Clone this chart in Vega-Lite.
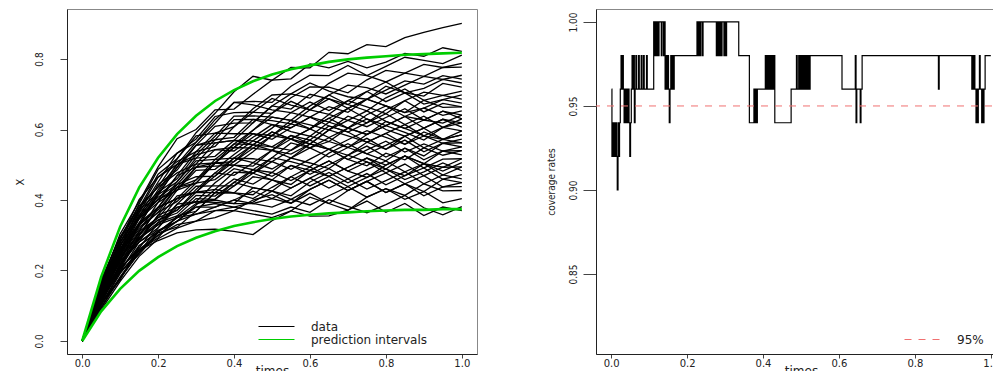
{
"$schema": "https://vega.github.io/schema/vega-lite/v6.json",
"background": "white",
"padding": {"left": 13, "top": 8, "right": -11, "bottom": -5},
"autosize": {"type": "pad"},
"bounds": "flush",
"spacing": 119,
"config": {
  "view": {"stroke": "#888888", "strokeWidth": 1},
  "axis": {"grid": false, "domainColor": "#222222", "tickColor": "#444444", "labelColor": "#222222", "titleColor": "#222222", "titleFontWeight": "normal", "labelFont": "DejaVu Sans", "titleFont": "DejaVu Sans"},
  "legend": {"labelFont": "DejaVu Sans", "labelColor": "#222222"}
},
"resolve": {"scale": {"color": "independent"}},
"datasets": {
"bands": [
{"s":"u","t":0,"x":0},{"s":"u","t":0.05,"x":0.182},{"s":"u","t":0.1,"x":0.324},{"s":"u","t":0.15,"x":0.435},{"s":"u","t":0.2,"x":0.52},{"s":"u","t":0.25,"x":0.587},{"s":"u","t":0.3,"x":0.639},{"s":"u","t":0.35,"x":0.681},{"s":"u","t":0.4,"x":0.712},{"s":"u","t":0.45,"x":0.737},{"s":"u","t":0.5,"x":0.756},{"s":"u","t":0.55,"x":0.771},{"s":"u","t":0.6,"x":0.782},{"s":"u","t":0.65,"x":0.792},{"s":"u","t":0.7,"x":0.799},{"s":"u","t":0.75,"x":0.804},{"s":"u","t":0.8,"x":0.808},{"s":"u","t":0.85,"x":0.812},{"s":"u","t":0.9,"x":0.814},{"s":"u","t":0.95,"x":0.816},{"s":"u","t":1,"x":0.818},
{"s":"l","t":0,"x":0},{"s":"l","t":0.05,"x":0.084},{"s":"l","t":0.1,"x":0.148},{"s":"l","t":0.15,"x":0.199},{"s":"l","t":0.2,"x":0.238},{"s":"l","t":0.25,"x":0.269},{"s":"l","t":0.3,"x":0.293},{"s":"l","t":0.35,"x":0.311},{"s":"l","t":0.4,"x":0.326},{"s":"l","t":0.45,"x":0.337},{"s":"l","t":0.5,"x":0.346},{"s":"l","t":0.55,"x":0.353},{"s":"l","t":0.6,"x":0.358},{"s":"l","t":0.65,"x":0.362},{"s":"l","t":0.7,"x":0.365},{"s":"l","t":0.75,"x":0.368},{"s":"l","t":0.8,"x":0.37},{"s":"l","t":0.85,"x":0.372},{"s":"l","t":0.9,"x":0.372},{"s":"l","t":0.95,"x":0.374},{"s":"l","t":1,"x":0.374}
],
"paths": [
{"p":1,"t":0,"x":0},{"p":1,"t":0.05,"x":0.141},{"p":1,"t":0.1,"x":0.268},{"p":1,"t":0.15,"x":0.377},{"p":1,"t":0.2,"x":0.473},{"p":1,"t":0.25,"x":0.517},{"p":1,"t":0.3,"x":0.591},{"p":1,"t":0.35,"x":0.646},{"p":1,"t":0.4,"x":0.707},{"p":1,"t":0.45,"x":0.751},{"p":1,"t":0.5,"x":0.74},{"p":1,"t":0.55,"x":0.776},{"p":1,"t":0.6,"x":0.775},{"p":1,"t":0.65,"x":0.819},{"p":1,"t":0.7,"x":0.815},{"p":1,"t":0.75,"x":0.841},{"p":1,"t":0.8,"x":0.835},{"p":1,"t":0.85,"x":0.861},{"p":1,"t":0.9,"x":0.876},{"p":1,"t":0.95,"x":0.889},{"p":1,"t":1,"x":0.901},
{"p":2,"t":0,"x":0},{"p":2,"t":0.05,"x":0.163},{"p":2,"t":0.1,"x":0.304},{"p":2,"t":0.15,"x":0.395},{"p":2,"t":0.2,"x":0.494},{"p":2,"t":0.25,"x":0.574},{"p":2,"t":0.3,"x":0.6},{"p":2,"t":0.35,"x":0.656},{"p":2,"t":0.4,"x":0.658},{"p":2,"t":0.45,"x":0.7},{"p":2,"t":0.5,"x":0.74},{"p":2,"t":0.55,"x":0.744},{"p":2,"t":0.6,"x":0.786},{"p":2,"t":0.65,"x":0.775},{"p":2,"t":0.7,"x":0.793},{"p":2,"t":0.75,"x":0.775},{"p":2,"t":0.8,"x":0.791},{"p":2,"t":0.85,"x":0.816},{"p":2,"t":0.9,"x":0.808},{"p":2,"t":0.95,"x":0.832},{"p":2,"t":1,"x":0.822},
{"p":3,"t":0,"x":0},{"p":3,"t":0.05,"x":0.153},{"p":3,"t":0.1,"x":0.286},{"p":3,"t":0.15,"x":0.401},{"p":3,"t":0.2,"x":0.465},{"p":3,"t":0.25,"x":0.501},{"p":3,"t":0.3,"x":0.564},{"p":3,"t":0.35,"x":0.618},{"p":3,"t":0.4,"x":0.677},{"p":3,"t":0.45,"x":0.68},{"p":3,"t":0.5,"x":0.677},{"p":3,"t":0.55,"x":0.723},{"p":3,"t":0.6,"x":0.754},{"p":3,"t":0.65,"x":0.753},{"p":3,"t":0.7,"x":0.782},{"p":3,"t":0.75,"x":0.753},{"p":3,"t":0.8,"x":0.779},{"p":3,"t":0.85,"x":0.805},{"p":3,"t":0.9,"x":0.796},{"p":3,"t":0.95,"x":0.787},{"p":3,"t":1,"x":0.811},
{"p":4,"t":0,"x":0},{"p":4,"t":0.05,"x":0.171},{"p":4,"t":0.1,"x":0.295},{"p":4,"t":0.15,"x":0.377},{"p":4,"t":0.2,"x":0.437},{"p":4,"t":0.25,"x":0.517},{"p":4,"t":0.3,"x":0.582},{"p":4,"t":0.35,"x":0.59},{"p":4,"t":0.4,"x":0.608},{"p":4,"t":0.45,"x":0.659},{"p":4,"t":0.5,"x":0.698},{"p":4,"t":0.55,"x":0.701},{"p":4,"t":0.6,"x":0.689},{"p":4,"t":0.65,"x":0.731},{"p":4,"t":0.7,"x":0.76},{"p":4,"t":0.75,"x":0.753},{"p":4,"t":0.8,"x":0.735},{"p":4,"t":0.85,"x":0.76},{"p":4,"t":0.9,"x":0.785},{"p":4,"t":0.95,"x":0.776},{"p":4,"t":1,"x":0.788},
{"p":5,"t":0,"x":0},{"p":5,"t":0.05,"x":0.138},{"p":5,"t":0.1,"x":0.259},{"p":5,"t":0.15,"x":0.365},{"p":5,"t":0.2,"x":0.451},{"p":5,"t":0.25,"x":0.533},{"p":5,"t":0.3,"x":0.573},{"p":5,"t":0.35,"x":0.637},{"p":5,"t":0.4,"x":0.648},{"p":5,"t":0.45,"x":0.649},{"p":5,"t":0.5,"x":0.646},{"p":5,"t":0.55,"x":0.69},{"p":5,"t":0.6,"x":0.721},{"p":5,"t":0.65,"x":0.72},{"p":5,"t":0.7,"x":0.704},{"p":5,"t":0.75,"x":0.741},{"p":5,"t":0.8,"x":0.768},{"p":5,"t":0.85,"x":0.76},{"p":5,"t":0.9,"x":0.751},{"p":5,"t":0.95,"x":0.776},{"p":5,"t":1,"x":0.777},
{"p":6,"t":0,"x":0},{"p":6,"t":0.05,"x":0.158},{"p":6,"t":0.1,"x":0.268},{"p":6,"t":0.15,"x":0.371},{"p":6,"t":0.2,"x":0.465},{"p":6,"t":0.25,"x":0.509},{"p":6,"t":0.3,"x":0.537},{"p":6,"t":0.35,"x":0.552},{"p":6,"t":0.4,"x":0.608},{"p":6,"t":0.45,"x":0.649},{"p":6,"t":0.5,"x":0.688},{"p":6,"t":0.55,"x":0.669},{"p":6,"t":0.6,"x":0.656},{"p":6,"t":0.65,"x":0.698},{"p":6,"t":0.7,"x":0.726},{"p":6,"t":0.75,"x":0.719},{"p":6,"t":0.8,"x":0.701},{"p":6,"t":0.85,"x":0.726},{"p":6,"t":0.9,"x":0.751},{"p":6,"t":0.95,"x":0.742},{"p":6,"t":1,"x":0.754},
{"p":7,"t":0,"x":0},{"p":7,"t":0.05,"x":0.128},{"p":7,"t":0.1,"x":0.25},{"p":7,"t":0.15,"x":0.353},{"p":7,"t":0.2,"x":0.444},{"p":7,"t":0.25,"x":0.485},{"p":7,"t":0.3,"x":0.555},{"p":7,"t":0.35,"x":0.609},{"p":7,"t":0.4,"x":0.618},{"p":7,"t":0.45,"x":0.619},{"p":7,"t":0.5,"x":0.667},{"p":7,"t":0.55,"x":0.701},{"p":7,"t":0.6,"x":0.732},{"p":7,"t":0.65,"x":0.709},{"p":7,"t":0.7,"x":0.693},{"p":7,"t":0.75,"x":0.686},{"p":7,"t":0.8,"x":0.712},{"p":7,"t":0.85,"x":0.738},{"p":7,"t":0.9,"x":0.729},{"p":7,"t":0.95,"x":0.753},{"p":7,"t":1,"x":0.743},
{"p":8,"t":0,"x":0},{"p":8,"t":0.05,"x":0.148},{"p":8,"t":0.1,"x":0.277},{"p":8,"t":0.15,"x":0.389},{"p":8,"t":0.2,"x":0.487},{"p":8,"t":0.25,"x":0.533},{"p":8,"t":0.3,"x":0.564},{"p":8,"t":0.35,"x":0.628},{"p":8,"t":0.4,"x":0.677},{"p":8,"t":0.45,"x":0.67},{"p":8,"t":0.5,"x":0.656},{"p":8,"t":0.55,"x":0.648},{"p":8,"t":0.6,"x":0.678},{"p":8,"t":0.65,"x":0.654},{"p":8,"t":0.7,"x":0.682},{"p":8,"t":0.75,"x":0.708},{"p":8,"t":0.8,"x":0.679},{"p":8,"t":0.85,"x":0.704},{"p":8,"t":0.9,"x":0.717},{"p":8,"t":0.95,"x":0.742},{"p":8,"t":1,"x":0.732},
{"p":9,"t":0,"x":0},{"p":9,"t":0.05,"x":0.166},{"p":9,"t":0.1,"x":0.281},{"p":9,"t":0.15,"x":0.365},{"p":9,"t":0.2,"x":0.415},{"p":9,"t":0.25,"x":0.493},{"p":9,"t":0.3,"x":0.555},{"p":9,"t":0.35,"x":0.562},{"p":9,"t":0.4,"x":0.569},{"p":9,"t":0.45,"x":0.619},{"p":9,"t":0.5,"x":0.667},{"p":9,"t":0.55,"x":0.658},{"p":9,"t":0.6,"x":0.7},{"p":9,"t":0.65,"x":0.687},{"p":9,"t":0.7,"x":0.671},{"p":9,"t":0.75,"x":0.708},{"p":9,"t":0.8,"x":0.735},{"p":9,"t":0.85,"x":0.704},{"p":9,"t":0.9,"x":0.695},{"p":9,"t":0.95,"x":0.731},{"p":9,"t":1,"x":0.72},
{"p":10,"t":0,"x":0},{"p":10,"t":0.05,"x":0.143},{"p":10,"t":0.1,"x":0.241},{"p":10,"t":0.15,"x":0.335},{"p":10,"t":0.2,"x":0.422},{"p":10,"t":0.25,"x":0.501},{"p":10,"t":0.3,"x":0.528},{"p":10,"t":0.35,"x":0.581},{"p":10,"t":0.4,"x":0.638},{"p":10,"t":0.45,"x":0.639},{"p":10,"t":0.5,"x":0.635},{"p":10,"t":0.55,"x":0.626},{"p":10,"t":0.6,"x":0.667},{"p":10,"t":0.65,"x":0.698},{"p":10,"t":0.7,"x":0.671},{"p":10,"t":0.75,"x":0.653},{"p":10,"t":0.8,"x":0.69},{"p":10,"t":0.85,"x":0.715},{"p":10,"t":0.9,"x":0.683},{"p":10,"t":0.95,"x":0.697},{"p":10,"t":1,"x":0.709},
{"p":11,"t":0,"x":0},{"p":11,"t":0.05,"x":0.121},{"p":11,"t":0.1,"x":0.227},{"p":11,"t":0.15,"x":0.329},{"p":11,"t":0.2,"x":0.415},{"p":11,"t":0.25,"x":0.452},{"p":11,"t":0.3,"x":0.519},{"p":11,"t":0.35,"x":0.571},{"p":11,"t":0.4,"x":0.578},{"p":11,"t":0.45,"x":0.629},{"p":11,"t":0.5,"x":0.625},{"p":11,"t":0.55,"x":0.616},{"p":11,"t":0.6,"x":0.656},{"p":11,"t":0.65,"x":0.687},{"p":11,"t":0.7,"x":0.66},{"p":11,"t":0.75,"x":0.686},{"p":11,"t":0.8,"x":0.723},{"p":11,"t":0.85,"x":0.704},{"p":11,"t":0.9,"x":0.672},{"p":11,"t":0.95,"x":0.685},{"p":11,"t":1,"x":0.698},
{"p":12,"t":0,"x":0},{"p":12,"t":0.05,"x":0.156},{"p":12,"t":0.1,"x":0.29},{"p":12,"t":0.15,"x":0.371},{"p":12,"t":0.2,"x":0.422},{"p":12,"t":0.25,"x":0.46},{"p":12,"t":0.3,"x":0.528},{"p":12,"t":0.35,"x":0.543},{"p":12,"t":0.4,"x":0.549},{"p":12,"t":0.45,"x":0.598},{"p":12,"t":0.5,"x":0.646},{"p":12,"t":0.55,"x":0.68},{"p":12,"t":0.6,"x":0.656},{"p":12,"t":0.65,"x":0.643},{"p":12,"t":0.7,"x":0.682},{"p":12,"t":0.75,"x":0.664},{"p":12,"t":0.8,"x":0.645},{"p":12,"t":0.85,"x":0.682},{"p":12,"t":0.9,"x":0.706},{"p":12,"t":0.95,"x":0.697},{"p":12,"t":1,"x":0.686},
{"p":13,"t":0,"x":0},{"p":13,"t":0.05,"x":0.136},{"p":13,"t":0.1,"x":0.254},{"p":13,"t":0.15,"x":0.329},{"p":13,"t":0.2,"x":0.415},{"p":13,"t":0.25,"x":0.493},{"p":13,"t":0.3,"x":0.555},{"p":13,"t":0.35,"x":0.571},{"p":13,"t":0.4,"x":0.628},{"p":13,"t":0.45,"x":0.629},{"p":13,"t":0.5,"x":0.614},{"p":13,"t":0.55,"x":0.605},{"p":13,"t":0.6,"x":0.635},{"p":13,"t":0.65,"x":0.665},{"p":13,"t":0.7,"x":0.649},{"p":13,"t":0.75,"x":0.686},{"p":13,"t":0.8,"x":0.667},{"p":13,"t":0.85,"x":0.648},{"p":13,"t":0.9,"x":0.661},{"p":13,"t":0.95,"x":0.685},{"p":13,"t":1,"x":0.675},
{"p":14,"t":0,"x":0},{"p":14,"t":0.05,"x":0.173},{"p":14,"t":0.1,"x":0.295},{"p":14,"t":0.15,"x":0.383},{"p":14,"t":0.2,"x":0.437},{"p":14,"t":0.25,"x":0.477},{"p":14,"t":0.3,"x":0.502},{"p":14,"t":0.35,"x":0.562},{"p":14,"t":0.4,"x":0.569},{"p":14,"t":0.45,"x":0.568},{"p":14,"t":0.5,"x":0.604},{"p":14,"t":0.55,"x":0.648},{"p":14,"t":0.6,"x":0.635},{"p":14,"t":0.65,"x":0.621},{"p":14,"t":0.7,"x":0.66},{"p":14,"t":0.75,"x":0.686},{"p":14,"t":0.8,"x":0.667},{"p":14,"t":0.85,"x":0.648},{"p":14,"t":0.9,"x":0.683},{"p":14,"t":0.95,"x":0.663},{"p":14,"t":1,"x":0.664},
{"p":15,"t":0,"x":0},{"p":15,"t":0.05,"x":0.151},{"p":15,"t":0.1,"x":0.254},{"p":15,"t":0.15,"x":0.353},{"p":15,"t":0.2,"x":0.401},{"p":15,"t":0.25,"x":0.469},{"p":15,"t":0.3,"x":0.537},{"p":15,"t":0.35,"x":0.59},{"p":15,"t":0.4,"x":0.588},{"p":15,"t":0.45,"x":0.588},{"p":15,"t":0.5,"x":0.583},{"p":15,"t":0.55,"x":0.626},{"p":15,"t":0.6,"x":0.613},{"p":15,"t":0.65,"x":0.599},{"p":15,"t":0.7,"x":0.638},{"p":15,"t":0.75,"x":0.619},{"p":15,"t":0.8,"x":0.656},{"p":15,"t":0.85,"x":0.682},{"p":15,"t":0.9,"x":0.65},{"p":15,"t":0.95,"x":0.674},{"p":15,"t":1,"x":0.664},
{"p":16,"t":0,"x":0},{"p":16,"t":0.05,"x":0.113},{"p":16,"t":0.1,"x":0.218},{"p":16,"t":0.15,"x":0.311},{"p":16,"t":0.2,"x":0.393},{"p":16,"t":0.25,"x":0.469},{"p":16,"t":0.3,"x":0.493},{"p":16,"t":0.35,"x":0.505},{"p":16,"t":0.4,"x":0.559},{"p":16,"t":0.45,"x":0.598},{"p":16,"t":0.5,"x":0.635},{"p":16,"t":0.55,"x":0.626},{"p":16,"t":0.6,"x":0.602},{"p":16,"t":0.65,"x":0.632},{"p":16,"t":0.7,"x":0.66},{"p":16,"t":0.75,"x":0.63},{"p":16,"t":0.8,"x":0.611},{"p":16,"t":0.85,"x":0.637},{"p":16,"t":0.9,"x":0.661},{"p":16,"t":0.95,"x":0.64},{"p":16,"t":1,"x":0.653},
{"p":17,"t":0,"x":0},{"p":17,"t":0.05,"x":0.146},{"p":17,"t":0.1,"x":0.272},{"p":17,"t":0.15,"x":0.347},{"p":17,"t":0.2,"x":0.393},{"p":17,"t":0.25,"x":0.428},{"p":17,"t":0.3,"x":0.493},{"p":17,"t":0.35,"x":0.543},{"p":17,"t":0.4,"x":0.539},{"p":17,"t":0.45,"x":0.578},{"p":17,"t":0.5,"x":0.614},{"p":17,"t":0.55,"x":0.594},{"p":17,"t":0.6,"x":0.581},{"p":17,"t":0.65,"x":0.621},{"p":17,"t":0.7,"x":0.604},{"p":17,"t":0.75,"x":0.642},{"p":17,"t":0.8,"x":0.667},{"p":17,"t":0.85,"x":0.637},{"p":17,"t":0.9,"x":0.627},{"p":17,"t":0.95,"x":0.652},{"p":17,"t":1,"x":0.641},
{"p":18,"t":0,"x":0},{"p":18,"t":0.05,"x":0.161},{"p":18,"t":0.1,"x":0.272},{"p":18,"t":0.15,"x":0.347},{"p":18,"t":0.2,"x":0.429},{"p":18,"t":0.25,"x":0.501},{"p":18,"t":0.3,"x":0.519},{"p":18,"t":0.35,"x":0.524},{"p":18,"t":0.4,"x":0.569},{"p":18,"t":0.45,"x":0.557},{"p":18,"t":0.5,"x":0.593},{"p":18,"t":0.55,"x":0.573},{"p":18,"t":0.6,"x":0.602},{"p":18,"t":0.65,"x":0.643},{"p":18,"t":0.7,"x":0.626},{"p":18,"t":0.75,"x":0.608},{"p":18,"t":0.8,"x":0.634},{"p":18,"t":0.85,"x":0.659},{"p":18,"t":0.9,"x":0.627},{"p":18,"t":0.95,"x":0.618},{"p":18,"t":1,"x":0.641},
{"p":19,"t":0,"x":0},{"p":19,"t":0.05,"x":0.131},{"p":19,"t":0.1,"x":0.245},{"p":19,"t":0.15,"x":0.347},{"p":19,"t":0.2,"x":0.401},{"p":19,"t":0.25,"x":0.428},{"p":19,"t":0.3,"x":0.448},{"p":19,"t":0.35,"x":0.505},{"p":19,"t":0.4,"x":0.549},{"p":19,"t":0.45,"x":0.588},{"p":19,"t":0.5,"x":0.572},{"p":19,"t":0.55,"x":0.605},{"p":19,"t":0.6,"x":0.635},{"p":19,"t":0.65,"x":0.61},{"p":19,"t":0.7,"x":0.593},{"p":19,"t":0.75,"x":0.619},{"p":19,"t":0.8,"x":0.645},{"p":19,"t":0.85,"x":0.614},{"p":19,"t":0.9,"x":0.638},{"p":19,"t":0.95,"x":0.606},{"p":19,"t":1,"x":0.63},
{"p":20,"t":0,"x":0},{"p":20,"t":0.05,"x":0.141},{"p":20,"t":0.1,"x":0.236},{"p":20,"t":0.15,"x":0.299},{"p":20,"t":0.2,"x":0.379},{"p":20,"t":0.25,"x":0.452},{"p":20,"t":0.3,"x":0.511},{"p":20,"t":0.35,"x":0.515},{"p":20,"t":0.4,"x":0.519},{"p":20,"t":0.45,"x":0.557},{"p":20,"t":0.5,"x":0.593},{"p":20,"t":0.55,"x":0.573},{"p":20,"t":0.6,"x":0.559},{"p":20,"t":0.65,"x":0.599},{"p":20,"t":0.7,"x":0.626},{"p":20,"t":0.75,"x":0.653},{"p":20,"t":0.8,"x":0.623},{"p":20,"t":0.85,"x":0.603},{"p":20,"t":0.9,"x":0.627},{"p":20,"t":0.95,"x":0.652},{"p":20,"t":1,"x":0.63},
{"p":21,"t":0,"x":0},{"p":21,"t":0.05,"x":0.153},{"p":21,"t":0.1,"x":0.259},{"p":21,"t":0.15,"x":0.359},{"p":21,"t":0.2,"x":0.408},{"p":21,"t":0.25,"x":0.444},{"p":21,"t":0.3,"x":0.502},{"p":21,"t":0.35,"x":0.505},{"p":21,"t":0.4,"x":0.509},{"p":21,"t":0.45,"x":0.547},{"p":21,"t":0.5,"x":0.583},{"p":21,"t":0.55,"x":0.616},{"p":21,"t":0.6,"x":0.602},{"p":21,"t":0.65,"x":0.577},{"p":21,"t":0.7,"x":0.604},{"p":21,"t":0.75,"x":0.586},{"p":21,"t":0.8,"x":0.611},{"p":21,"t":0.85,"x":0.637},{"p":21,"t":0.9,"x":0.604},{"p":21,"t":0.95,"x":0.629},{"p":21,"t":1,"x":0.619},
{"p":22,"t":0,"x":0},{"p":22,"t":0.05,"x":0.123},{"p":22,"t":0.1,"x":0.232},{"p":22,"t":0.15,"x":0.329},{"p":22,"t":0.2,"x":0.379},{"p":22,"t":0.25,"x":0.404},{"p":22,"t":0.3,"x":0.457},{"p":22,"t":0.35,"x":0.515},{"p":22,"t":0.4,"x":0.559},{"p":22,"t":0.45,"x":0.557},{"p":22,"t":0.5,"x":0.541},{"p":22,"t":0.55,"x":0.573},{"p":22,"t":0.6,"x":0.602},{"p":22,"t":0.65,"x":0.632},{"p":22,"t":0.7,"x":0.604},{"p":22,"t":0.75,"x":0.586},{"p":22,"t":0.8,"x":0.623},{"p":22,"t":0.85,"x":0.603},{"p":22,"t":0.9,"x":0.582},{"p":22,"t":0.95,"x":0.606},{"p":22,"t":1,"x":0.619},
{"p":23,"t":0,"x":0},{"p":23,"t":0.05,"x":0.133},{"p":23,"t":0.1,"x":0.25},{"p":23,"t":0.15,"x":0.323},{"p":23,"t":0.2,"x":0.365},{"p":23,"t":0.25,"x":0.436},{"p":23,"t":0.3,"x":0.493},{"p":23,"t":0.35,"x":0.496},{"p":23,"t":0.4,"x":0.499},{"p":23,"t":0.45,"x":0.537},{"p":23,"t":0.5,"x":0.583},{"p":23,"t":0.55,"x":0.573},{"p":23,"t":0.6,"x":0.548},{"p":23,"t":0.65,"x":0.566},{"p":23,"t":0.7,"x":0.604},{"p":23,"t":0.75,"x":0.63},{"p":23,"t":0.8,"x":0.6},{"p":23,"t":0.85,"x":0.581},{"p":23,"t":0.9,"x":0.604},{"p":23,"t":0.95,"x":0.629},{"p":23,"t":1,"x":0.607},
{"p":24,"t":0,"x":0},{"p":24,"t":0.05,"x":0.168},{"p":24,"t":0.1,"x":0.281},{"p":24,"t":0.15,"x":0.353},{"p":24,"t":0.2,"x":0.401},{"p":24,"t":0.25,"x":0.436},{"p":24,"t":0.3,"x":0.457},{"p":24,"t":0.35,"x":0.505},{"p":24,"t":0.4,"x":0.499},{"p":24,"t":0.45,"x":0.496},{"p":24,"t":0.5,"x":0.541},{"p":24,"t":0.55,"x":0.583},{"p":24,"t":0.6,"x":0.57},{"p":24,"t":0.65,"x":0.61},{"p":24,"t":0.7,"x":0.593},{"p":24,"t":0.75,"x":0.564},{"p":24,"t":0.8,"x":0.589},{"p":24,"t":0.85,"x":0.614},{"p":24,"t":0.9,"x":0.582},{"p":24,"t":0.95,"x":0.572},{"p":24,"t":1,"x":0.596},
{"p":25,"t":0,"x":0},{"p":25,"t":0.05,"x":0.118},{"p":25,"t":0.1,"x":0.196},{"p":25,"t":0.15,"x":0.281},{"p":25,"t":0.2,"x":0.357},{"p":25,"t":0.25,"x":0.428},{"p":25,"t":0.3,"x":0.484},{"p":25,"t":0.35,"x":0.487},{"p":25,"t":0.4,"x":0.529},{"p":25,"t":0.45,"x":0.568},{"p":25,"t":0.5,"x":0.551},{"p":25,"t":0.55,"x":0.541},{"p":25,"t":0.6,"x":0.581},{"p":25,"t":0.65,"x":0.566},{"p":25,"t":0.7,"x":0.549},{"p":25,"t":0.75,"x":0.586},{"p":25,"t":0.8,"x":0.611},{"p":25,"t":0.85,"x":0.592},{"p":25,"t":0.9,"x":0.57},{"p":25,"t":0.95,"x":0.606},{"p":25,"t":1,"x":0.596},
{"p":26,"t":0,"x":0},{"p":26,"t":0.05,"x":0.148},{"p":26,"t":0.1,"x":0.25},{"p":26,"t":0.15,"x":0.317},{"p":26,"t":0.2,"x":0.365},{"p":26,"t":0.25,"x":0.396},{"p":26,"t":0.3,"x":0.448},{"p":26,"t":0.35,"x":0.505},{"p":26,"t":0.4,"x":0.549},{"p":26,"t":0.45,"x":0.547},{"p":26,"t":0.5,"x":0.541},{"p":26,"t":0.55,"x":0.53},{"p":26,"t":0.6,"x":0.559},{"p":26,"t":0.65,"x":0.599},{"p":26,"t":0.7,"x":0.582},{"p":26,"t":0.75,"x":0.564},{"p":26,"t":0.8,"x":0.544},{"p":26,"t":0.85,"x":0.581},{"p":26,"t":0.9,"x":0.604},{"p":26,"t":0.95,"x":0.572},{"p":26,"t":1,"x":0.585},
{"p":27,"t":0,"x":0},{"p":27,"t":0.05,"x":0.128},{"p":27,"t":0.1,"x":0.214},{"p":27,"t":0.15,"x":0.299},{"p":27,"t":0.2,"x":0.379},{"p":27,"t":0.25,"x":0.444},{"p":27,"t":0.3,"x":0.466},{"p":27,"t":0.35,"x":0.468},{"p":27,"t":0.4,"x":0.509},{"p":27,"t":0.45,"x":0.557},{"p":27,"t":0.5,"x":0.551},{"p":27,"t":0.55,"x":0.583},{"p":27,"t":0.6,"x":0.559},{"p":27,"t":0.65,"x":0.544},{"p":27,"t":0.7,"x":0.571},{"p":27,"t":0.75,"x":0.597},{"p":27,"t":0.8,"x":0.578},{"p":27,"t":0.85,"x":0.558},{"p":27,"t":0.9,"x":0.593},{"p":27,"t":0.95,"x":0.572},{"p":27,"t":1,"x":0.585},
{"p":28,"t":0,"x":0},{"p":28,"t":0.05,"x":0.138},{"p":28,"t":0.1,"x":0.259},{"p":28,"t":0.15,"x":0.335},{"p":28,"t":0.2,"x":0.379},{"p":28,"t":0.25,"x":0.404},{"p":28,"t":0.3,"x":0.422},{"p":28,"t":0.35,"x":0.468},{"p":28,"t":0.4,"x":0.519},{"p":28,"t":0.45,"x":0.517},{"p":28,"t":0.5,"x":0.509},{"p":28,"t":0.55,"x":0.541},{"p":28,"t":0.6,"x":0.57},{"p":28,"t":0.65,"x":0.544},{"p":28,"t":0.7,"x":0.527},{"p":28,"t":0.75,"x":0.564},{"p":28,"t":0.8,"x":0.589},{"p":28,"t":0.85,"x":0.558},{"p":28,"t":0.9,"x":0.582},{"p":28,"t":0.95,"x":0.561},{"p":28,"t":1,"x":0.573},
{"p":29,"t":0,"x":0},{"p":29,"t":0.05,"x":0.108},{"p":29,"t":0.1,"x":0.205},{"p":29,"t":0.15,"x":0.293},{"p":29,"t":0.2,"x":0.336},{"p":29,"t":0.25,"x":0.404},{"p":29,"t":0.3,"x":0.422},{"p":29,"t":0.35,"x":0.477},{"p":29,"t":0.4,"x":0.519},{"p":29,"t":0.45,"x":0.506},{"p":29,"t":0.5,"x":0.541},{"p":29,"t":0.55,"x":0.519},{"p":29,"t":0.6,"x":0.548},{"p":29,"t":0.65,"x":0.577},{"p":29,"t":0.7,"x":0.549},{"p":29,"t":0.75,"x":0.531},{"p":29,"t":0.8,"x":0.555},{"p":29,"t":0.85,"x":0.581},{"p":29,"t":0.9,"x":0.548},{"p":29,"t":0.95,"x":0.572},{"p":29,"t":1,"x":0.562},
{"p":30,"t":0,"x":0},{"p":30,"t":0.05,"x":0.156},{"p":30,"t":0.1,"x":0.263},{"p":30,"t":0.15,"x":0.329},{"p":30,"t":0.2,"x":0.372},{"p":30,"t":0.25,"x":0.436},{"p":30,"t":0.3,"x":0.448},{"p":30,"t":0.35,"x":0.458},{"p":30,"t":0.4,"x":0.499},{"p":30,"t":0.45,"x":0.486},{"p":30,"t":0.5,"x":0.52},{"p":30,"t":0.55,"x":0.562},{"p":30,"t":0.6,"x":0.548},{"p":30,"t":0.65,"x":0.522},{"p":30,"t":0.7,"x":0.549},{"p":30,"t":0.75,"x":0.575},{"p":30,"t":0.8,"x":0.544},{"p":30,"t":0.85,"x":0.57},{"p":30,"t":0.9,"x":0.537},{"p":30,"t":0.95,"x":0.561},{"p":30,"t":1,"x":0.562},
{"p":31,"t":0,"x":0},{"p":31,"t":0.05,"x":0.126},{"p":31,"t":0.1,"x":0.236},{"p":31,"t":0.15,"x":0.305},{"p":31,"t":0.2,"x":0.343},{"p":31,"t":0.25,"x":0.371},{"p":31,"t":0.3,"x":0.43},{"p":31,"t":0.35,"x":0.477},{"p":31,"t":0.4,"x":0.47},{"p":31,"t":0.45,"x":0.506},{"p":31,"t":0.5,"x":0.488},{"p":31,"t":0.55,"x":0.519},{"p":31,"t":0.6,"x":0.559},{"p":31,"t":0.65,"x":0.544},{"p":31,"t":0.7,"x":0.515},{"p":31,"t":0.75,"x":0.542},{"p":31,"t":0.8,"x":0.567},{"p":31,"t":0.85,"x":0.536},{"p":31,"t":0.9,"x":0.559},{"p":31,"t":0.95,"x":0.539},{"p":31,"t":1,"x":0.551},
{"p":32,"t":0,"x":0},{"p":32,"t":0.05,"x":0.143},{"p":32,"t":0.1,"x":0.241},{"p":32,"t":0.15,"x":0.305},{"p":32,"t":0.2,"x":0.35},{"p":32,"t":0.25,"x":0.412},{"p":32,"t":0.3,"x":0.422},{"p":32,"t":0.35,"x":0.43},{"p":32,"t":0.4,"x":0.479},{"p":32,"t":0.45,"x":0.476},{"p":32,"t":0.5,"x":0.52},{"p":32,"t":0.55,"x":0.509},{"p":32,"t":0.6,"x":0.494},{"p":32,"t":0.65,"x":0.533},{"p":32,"t":0.7,"x":0.56},{"p":32,"t":0.75,"x":0.531},{"p":32,"t":0.8,"x":0.511},{"p":32,"t":0.85,"x":0.547},{"p":32,"t":0.9,"x":0.525},{"p":32,"t":0.95,"x":0.561},{"p":32,"t":1,"x":0.551},
{"p":33,"t":0,"x":0},{"p":33,"t":0.05,"x":0.116},{"p":33,"t":0.1,"x":0.218},{"p":33,"t":0.15,"x":0.281},{"p":33,"t":0.2,"x":0.321},{"p":33,"t":0.25,"x":0.388},{"p":33,"t":0.3,"x":0.439},{"p":33,"t":0.35,"x":0.44},{"p":33,"t":0.4,"x":0.44},{"p":33,"t":0.45,"x":0.486},{"p":33,"t":0.5,"x":0.478},{"p":33,"t":0.55,"x":0.519},{"p":33,"t":0.6,"x":0.505},{"p":33,"t":0.65,"x":0.489},{"p":33,"t":0.7,"x":0.527},{"p":33,"t":0.75,"x":0.553},{"p":33,"t":0.8,"x":0.522},{"p":33,"t":0.85,"x":0.547},{"p":33,"t":0.9,"x":0.514},{"p":33,"t":0.95,"x":0.539},{"p":33,"t":1,"x":0.54},
{"p":34,"t":0,"x":0},{"p":34,"t":0.05,"x":0.136},{"p":34,"t":0.1,"x":0.227},{"p":34,"t":0.15,"x":0.287},{"p":34,"t":0.2,"x":0.357},{"p":34,"t":0.25,"x":0.379},{"p":34,"t":0.3,"x":0.395},{"p":34,"t":0.35,"x":0.449},{"p":34,"t":0.4,"x":0.489},{"p":34,"t":0.45,"x":0.476},{"p":34,"t":0.5,"x":0.509},{"p":34,"t":0.55,"x":0.487},{"p":34,"t":0.6,"x":0.516},{"p":34,"t":0.65,"x":0.544},{"p":34,"t":0.7,"x":0.515},{"p":34,"t":0.75,"x":0.497},{"p":34,"t":0.8,"x":0.533},{"p":34,"t":0.85,"x":0.514},{"p":34,"t":0.9,"x":0.548},{"p":34,"t":0.95,"x":0.527},{"p":34,"t":1,"x":0.54},
{"p":35,"t":0,"x":0},{"p":35,"t":0.05,"x":0.103},{"p":35,"t":0.1,"x":0.196},{"p":35,"t":0.15,"x":0.251},{"p":35,"t":0.2,"x":0.321},{"p":35,"t":0.25,"x":0.379},{"p":35,"t":0.3,"x":0.395},{"p":35,"t":0.35,"x":0.402},{"p":35,"t":0.4,"x":0.45},{"p":35,"t":0.45,"x":0.486},{"p":35,"t":0.5,"x":0.467},{"p":35,"t":0.55,"x":0.498},{"p":35,"t":0.6,"x":0.473},{"p":35,"t":0.65,"x":0.5},{"p":35,"t":0.7,"x":0.527},{"p":35,"t":0.75,"x":0.508},{"p":35,"t":0.8,"x":0.488},{"p":35,"t":0.85,"x":0.525},{"p":35,"t":0.9,"x":0.503},{"p":35,"t":0.95,"x":0.539},{"p":35,"t":1,"x":0.528},
{"p":36,"t":0,"x":0},{"p":36,"t":0.05,"x":0.146},{"p":36,"t":0.1,"x":0.245},{"p":36,"t":0.15,"x":0.311},{"p":36,"t":0.2,"x":0.35},{"p":36,"t":0.25,"x":0.371},{"p":36,"t":0.3,"x":0.422},{"p":36,"t":0.35,"x":0.421},{"p":36,"t":0.4,"x":0.42},{"p":36,"t":0.45,"x":0.466},{"p":36,"t":0.5,"x":0.457},{"p":36,"t":0.55,"x":0.498},{"p":36,"t":0.6,"x":0.484},{"p":36,"t":0.65,"x":0.467},{"p":36,"t":0.7,"x":0.493},{"p":36,"t":0.75,"x":0.519},{"p":36,"t":0.8,"x":0.499},{"p":36,"t":0.85,"x":0.525},{"p":36,"t":0.9,"x":0.491},{"p":36,"t":0.95,"x":0.516},{"p":36,"t":1,"x":0.517},
{"p":37,"t":0,"x":0},{"p":37,"t":0.05,"x":0.123},{"p":37,"t":0.1,"x":0.205},{"p":37,"t":0.15,"x":0.263},{"p":37,"t":0.2,"x":0.336},{"p":37,"t":0.25,"x":0.355},{"p":37,"t":0.3,"x":0.368},{"p":37,"t":0.35,"x":0.421},{"p":37,"t":0.4,"x":0.46},{"p":37,"t":0.45,"x":0.445},{"p":37,"t":0.5,"x":0.478},{"p":37,"t":0.55,"x":0.455},{"p":37,"t":0.6,"x":0.484},{"p":37,"t":0.65,"x":0.511},{"p":37,"t":0.7,"x":0.482},{"p":37,"t":0.75,"x":0.464},{"p":37,"t":0.8,"x":0.499},{"p":37,"t":0.85,"x":0.525},{"p":37,"t":0.9,"x":0.503},{"p":37,"t":0.95,"x":0.493},{"p":37,"t":1,"x":0.517},
{"p":38,"t":0,"x":0},{"p":38,"t":0.05,"x":0.111},{"p":38,"t":0.1,"x":0.209},{"p":38,"t":0.15,"x":0.299},{"p":38,"t":0.2,"x":0.343},{"p":38,"t":0.25,"x":0.363},{"p":38,"t":0.3,"x":0.413},{"p":38,"t":0.35,"x":0.411},{"p":38,"t":0.4,"x":0.45},{"p":38,"t":0.45,"x":0.435},{"p":38,"t":0.5,"x":0.425},{"p":38,"t":0.55,"x":0.466},{"p":38,"t":0.6,"x":0.494},{"p":38,"t":0.65,"x":0.467},{"p":38,"t":0.7,"x":0.493},{"p":38,"t":0.75,"x":0.519},{"p":38,"t":0.8,"x":0.488},{"p":38,"t":0.85,"x":0.469},{"p":38,"t":0.9,"x":0.503},{"p":38,"t":0.95,"x":0.482},{"p":38,"t":1,"x":0.506},
{"p":39,"t":0,"x":0},{"p":39,"t":0.05,"x":0.133},{"p":39,"t":0.1,"x":0.223},{"p":39,"t":0.15,"x":0.281},{"p":39,"t":0.2,"x":0.314},{"p":39,"t":0.25,"x":0.339},{"p":39,"t":0.3,"x":0.386},{"p":39,"t":0.35,"x":0.43},{"p":39,"t":0.4,"x":0.42},{"p":39,"t":0.45,"x":0.415},{"p":39,"t":0.5,"x":0.457},{"p":39,"t":0.55,"x":0.444},{"p":39,"t":0.6,"x":0.484},{"p":39,"t":0.65,"x":0.511},{"p":39,"t":0.7,"x":0.482},{"p":39,"t":0.75,"x":0.508},{"p":39,"t":0.8,"x":0.477},{"p":39,"t":0.85,"x":0.502},{"p":39,"t":0.9,"x":0.469},{"p":39,"t":0.95,"x":0.493},{"p":39,"t":1,"x":0.494},
{"p":40,"t":0,"x":0},{"p":40,"t":0.05,"x":0.096},{"p":40,"t":0.1,"x":0.182},{"p":40,"t":0.15,"x":0.257},{"p":40,"t":0.2,"x":0.293},{"p":40,"t":0.25,"x":0.355},{"p":40,"t":0.3,"x":0.404},{"p":40,"t":0.35,"x":0.402},{"p":40,"t":0.4,"x":0.44},{"p":40,"t":0.45,"x":0.476},{"p":40,"t":0.5,"x":0.457},{"p":40,"t":0.55,"x":0.434},{"p":40,"t":0.6,"x":0.462},{"p":40,"t":0.65,"x":0.489},{"p":40,"t":0.7,"x":0.46},{"p":40,"t":0.75,"x":0.486},{"p":40,"t":0.8,"x":0.511},{"p":40,"t":0.85,"x":0.48},{"p":40,"t":0.9,"x":0.503},{"p":40,"t":0.95,"x":0.471},{"p":40,"t":1,"x":0.494},
{"p":41,"t":0,"x":0},{"p":41,"t":0.05,"x":0.118},{"p":41,"t":0.1,"x":0.196},{"p":41,"t":0.15,"x":0.245},{"p":41,"t":0.2,"x":0.307},{"p":41,"t":0.25,"x":0.323},{"p":41,"t":0.3,"x":0.368},{"p":41,"t":0.35,"x":0.421},{"p":41,"t":0.4,"x":0.42},{"p":41,"t":0.45,"x":0.404},{"p":41,"t":0.5,"x":0.436},{"p":41,"t":0.55,"x":0.466},{"p":41,"t":0.6,"x":0.44},{"p":41,"t":0.65,"x":0.467},{"p":41,"t":0.7,"x":0.438},{"p":41,"t":0.75,"x":0.464},{"p":41,"t":0.8,"x":0.488},{"p":41,"t":0.85,"x":0.458},{"p":41,"t":0.9,"x":0.48},{"p":41,"t":0.95,"x":0.505},{"p":41,"t":1,"x":0.483},
{"p":42,"t":0,"x":0},{"p":42,"t":0.05,"x":0.138},{"p":42,"t":0.1,"x":0.232},{"p":42,"t":0.15,"x":0.293},{"p":42,"t":0.2,"x":0.329},{"p":42,"t":0.25,"x":0.388},{"p":42,"t":0.3,"x":0.395},{"p":42,"t":0.35,"x":0.393},{"p":42,"t":0.4,"x":0.39},{"p":42,"t":0.45,"x":0.435},{"p":42,"t":0.5,"x":0.425},{"p":42,"t":0.55,"x":0.412},{"p":42,"t":0.6,"x":0.451},{"p":42,"t":0.65,"x":0.478},{"p":42,"t":0.7,"x":0.449},{"p":42,"t":0.75,"x":0.475},{"p":42,"t":0.8,"x":0.443},{"p":42,"t":0.85,"x":0.469},{"p":42,"t":0.9,"x":0.491},{"p":42,"t":0.95,"x":0.459},{"p":42,"t":1,"x":0.472},
{"p":43,"t":0,"x":0},{"p":43,"t":0.05,"x":0.106},{"p":43,"t":0.1,"x":0.173},{"p":43,"t":0.15,"x":0.27},{"p":43,"t":0.2,"x":0.31},{"p":43,"t":0.25,"x":0.35},{"p":43,"t":0.3,"x":0.39},{"p":43,"t":0.35,"x":0.4},{"p":43,"t":0.4,"x":0.39},{"p":43,"t":0.45,"x":0.39},{"p":43,"t":0.5,"x":0.404},{"p":43,"t":0.55,"x":0.434},{"p":43,"t":0.6,"x":0.462},{"p":43,"t":0.65,"x":0.434},{"p":43,"t":0.7,"x":0.46},{"p":43,"t":0.75,"x":0.431},{"p":43,"t":0.8,"x":0.455},{"p":43,"t":0.85,"x":0.48},{"p":43,"t":0.9,"x":0.446},{"p":43,"t":0.95,"x":0.471},{"p":43,"t":1,"x":0.46},
{"p":44,"t":0,"x":0},{"p":44,"t":0.05,"x":0.113},{"p":44,"t":0.1,"x":0.214},{"p":44,"t":0.15,"x":0.29},{"p":44,"t":0.2,"x":0.33},{"p":44,"t":0.25,"x":0.35},{"p":44,"t":0.3,"x":0.38},{"p":44,"t":0.35,"x":0.38},{"p":44,"t":0.4,"x":0.4},{"p":44,"t":0.45,"x":0.425},{"p":44,"t":0.5,"x":0.404},{"p":44,"t":0.55,"x":0.391},{"p":44,"t":0.6,"x":0.43},{"p":44,"t":0.65,"x":0.456},{"p":44,"t":0.7,"x":0.427},{"p":44,"t":0.75,"x":0.453},{"p":44,"t":0.8,"x":0.421},{"p":44,"t":0.85,"x":0.446},{"p":44,"t":0.9,"x":0.424},{"p":44,"t":0.95,"x":0.459},{"p":44,"t":1,"x":0.449},
{"p":45,"t":0,"x":0},{"p":45,"t":0.05,"x":0.101},{"p":45,"t":0.1,"x":0.191},{"p":45,"t":0.15,"x":0.26},{"p":45,"t":0.2,"x":0.3},{"p":45,"t":0.25,"x":0.34},{"p":45,"t":0.3,"x":0.36},{"p":45,"t":0.35,"x":0.38},{"p":45,"t":0.4,"x":0.4},{"p":45,"t":0.45,"x":0.39},{"p":45,"t":0.5,"x":0.38},{"p":45,"t":0.55,"x":0.402},{"p":45,"t":0.6,"x":0.43},{"p":45,"t":0.65,"x":0.456},{"p":45,"t":0.7,"x":0.427},{"p":45,"t":0.75,"x":0.453},{"p":45,"t":0.8,"x":0.477},{"p":45,"t":0.85,"x":0.446},{"p":45,"t":0.9,"x":0.469},{"p":45,"t":0.95,"x":0.437},{"p":45,"t":1,"x":0.449},
{"p":46,"t":0,"x":0},{"p":46,"t":0.05,"x":0.128},{"p":46,"t":0.1,"x":0.209},{"p":46,"t":0.15,"x":0.257},{"p":46,"t":0.2,"x":0.285},{"p":46,"t":0.25,"x":0.307},{"p":46,"t":0.3,"x":0.315},{"p":46,"t":0.35,"x":0.317},{"p":46,"t":0.4,"x":0.311},{"p":46,"t":0.45,"x":0.302},{"p":46,"t":0.5,"x":0.341},{"p":46,"t":0.55,"x":0.369},{"p":46,"t":0.6,"x":0.408},{"p":46,"t":0.65,"x":0.39},{"p":46,"t":0.7,"x":0.427},{"p":46,"t":0.75,"x":0.453},{"p":46,"t":0.8,"x":0.421},{"p":46,"t":0.85,"x":0.446},{"p":46,"t":0.9,"x":0.412},{"p":46,"t":0.95,"x":0.437},{"p":46,"t":1,"x":0.438},
{"p":47,"t":0,"x":0},{"p":47,"t":0.05,"x":0.093},{"p":47,"t":0.1,"x":0.178},{"p":47,"t":0.15,"x":0.25},{"p":47,"t":0.2,"x":0.31},{"p":47,"t":0.25,"x":0.34},{"p":47,"t":0.3,"x":0.38},{"p":47,"t":0.35,"x":0.39},{"p":47,"t":0.4,"x":0.38},{"p":47,"t":0.45,"x":0.394},{"p":47,"t":0.5,"x":0.425},{"p":47,"t":0.55,"x":0.402},{"p":47,"t":0.6,"x":0.386},{"p":47,"t":0.65,"x":0.412},{"p":47,"t":0.7,"x":0.438},{"p":47,"t":0.75,"x":0.408},{"p":47,"t":0.8,"x":0.432},{"p":47,"t":0.85,"x":0.413},{"p":47,"t":0.9,"x":0.446},{"p":47,"t":0.95,"x":0.426},{"p":47,"t":1,"x":0.427},
{"p":48,"t":0,"x":0},{"p":48,"t":0.05,"x":0.108},{"p":48,"t":0.1,"x":0.178},{"p":48,"t":0.15,"x":0.25},{"p":48,"t":0.2,"x":0.3},{"p":48,"t":0.25,"x":0.33},{"p":48,"t":0.3,"x":0.34},{"p":48,"t":0.35,"x":0.37},{"p":48,"t":0.4,"x":0.37},{"p":48,"t":0.45,"x":0.4},{"p":48,"t":0.5,"x":0.415},{"p":48,"t":0.55,"x":0.391},{"p":48,"t":0.6,"x":0.419},{"p":48,"t":0.65,"x":0.39},{"p":48,"t":0.7,"x":0.371},{"p":48,"t":0.75,"x":0.408},{"p":48,"t":0.8,"x":0.432},{"p":48,"t":0.85,"x":0.402},{"p":48,"t":0.9,"x":0.424},{"p":48,"t":0.95,"x":0.392},{"p":48,"t":1,"x":0.404},
{"p":49,"t":0,"x":0},{"p":49,"t":0.05,"x":0.121},{"p":49,"t":0.1,"x":0.2},{"p":49,"t":0.15,"x":0.27},{"p":49,"t":0.2,"x":0.31},{"p":49,"t":0.25,"x":0.35},{"p":49,"t":0.3,"x":0.36},{"p":49,"t":0.35,"x":0.37},{"p":49,"t":0.4,"x":0.38},{"p":49,"t":0.45,"x":0.37},{"p":49,"t":0.5,"x":0.36},{"p":49,"t":0.55,"x":0.38},{"p":49,"t":0.6,"x":0.365},{"p":49,"t":0.65,"x":0.401},{"p":49,"t":0.7,"x":0.382},{"p":49,"t":0.75,"x":0.364},{"p":49,"t":0.8,"x":0.387},{"p":49,"t":0.85,"x":0.413},{"p":49,"t":0.9,"x":0.378},{"p":49,"t":0.95,"x":0.358},{"p":49,"t":1,"x":0.381},
{"p":50,"t":0,"x":0},{"p":50,"t":0.05,"x":0.088},{"p":50,"t":0.1,"x":0.169},{"p":50,"t":0.15,"x":0.24},{"p":50,"t":0.2,"x":0.29},{"p":50,"t":0.25,"x":0.32},{"p":50,"t":0.3,"x":0.34},{"p":50,"t":0.35,"x":0.35},{"p":50,"t":0.4,"x":0.37},{"p":50,"t":0.45,"x":0.36},{"p":50,"t":0.5,"x":0.35},{"p":50,"t":0.55,"x":0.369},{"p":50,"t":0.6,"x":0.354},{"p":50,"t":0.65,"x":0.355},{"p":50,"t":0.7,"x":0.371},{"p":50,"t":0.75,"x":0.397},{"p":50,"t":0.8,"x":0.365},{"p":50,"t":0.85,"x":0.39},{"p":50,"t":0.9,"x":0.356},{"p":50,"t":0.95,"x":0.38},{"p":50,"t":1,"x":0.37}
],
"cov": [
{"t":0.001,"c":0.96},{"t":0.002,"c":0.92},{"t":0.004,"c":0.94},{"t":0.006,"c":0.92},{"t":0.008,"c":0.94},{"t":0.01,"c":0.92},{"t":0.012,"c":0.94},{"t":0.014,"c":0.92},{"t":0.016,"c":0.9},{"t":0.018,"c":0.94},{"t":0.02,"c":0.92},{"t":0.022,"c":0.94},{"t":0.024,"c":0.96},{"t":0.026,"c":0.98},{"t":0.028,"c":0.96},{"t":0.03,"c":0.98},{"t":0.032,"c":0.96},{"t":0.034,"c":0.94},{"t":0.036,"c":0.96},{"t":0.038,"c":0.94},{"t":0.04,"c":0.96},{"t":0.042,"c":0.94},{"t":0.045,"c":0.96},{"t":0.047,"c":0.94},{"t":0.049,"c":0.92},{"t":0.051,"c":0.94},{"t":0.053,"c":0.96},{"t":0.055,"c":0.98},{"t":0.057,"c":0.96},{"t":0.059,"c":0.98},{"t":0.061,"c":0.94},{"t":0.063,"c":0.96},{"t":0.065,"c":0.98},{"t":0.067,"c":0.96},{"t":0.072,"c":0.98},{"t":0.074,"c":0.96},{"t":0.079,"c":0.98},{"t":0.081,"c":0.96},{"t":0.085,"c":0.98},{"t":0.087,"c":0.96},{"t":0.093,"c":0.98},{"t":0.095,"c":0.96},{"t":0.112,"c":1},{"t":0.114,"c":0.98},{"t":0.116,"c":1},{"t":0.119,"c":0.98},{"t":0.121,"c":1},{"t":0.124,"c":0.98},{"t":0.126,"c":1},{"t":0.132,"c":0.98},{"t":0.134,"c":1},{"t":0.138,"c":0.98},{"t":0.14,"c":1},{"t":0.142,"c":0.96},{"t":0.144,"c":0.98},{"t":0.146,"c":0.96},{"t":0.149,"c":0.98},{"t":0.151,"c":0.96},{"t":0.153,"c":0.94},{"t":0.155,"c":0.96},{"t":0.157,"c":0.98},{"t":0.159,"c":0.96},{"t":0.161,"c":0.98},{"t":0.163,"c":0.96},{"t":0.166,"c":0.98},{"t":0.226,"c":1},{"t":0.228,"c":0.98},{"t":0.23,"c":1},{"t":0.233,"c":0.98},{"t":0.236,"c":1},{"t":0.24,"c":0.98},{"t":0.242,"c":1},{"t":0.277,"c":0.98},{"t":0.279,"c":1},{"t":0.281,"c":0.98},{"t":0.283,"c":1},{"t":0.285,"c":0.98},{"t":0.287,"c":1},{"t":0.29,"c":0.98},{"t":0.292,"c":1},{"t":0.297,"c":0.98},{"t":0.299,"c":1},{"t":0.302,"c":0.98},{"t":0.304,"c":1},{"t":0.336,"c":0.98},{"t":0.364,"c":0.94},{"t":0.376,"c":0.96},{"t":0.378,"c":0.94},{"t":0.38,"c":0.96},{"t":0.383,"c":0.94},{"t":0.385,"c":0.96},{"t":0.406,"c":0.98},{"t":0.409,"c":0.96},{"t":0.412,"c":0.98},{"t":0.415,"c":0.96},{"t":0.418,"c":0.98},{"t":0.421,"c":0.96},{"t":0.424,"c":0.98},{"t":0.427,"c":0.96},{"t":0.429,"c":0.98},{"t":0.431,"c":0.94},{"t":0.474,"c":0.96},{"t":0.488,"c":0.98},{"t":0.49,"c":0.96},{"t":0.494,"c":0.98},{"t":0.497,"c":0.96},{"t":0.5,"c":0.98},{"t":0.503,"c":0.96},{"t":0.506,"c":0.98},{"t":0.509,"c":0.96},{"t":0.512,"c":0.98},{"t":0.515,"c":0.96},{"t":0.518,"c":0.98},{"t":0.521,"c":0.96},{"t":0.524,"c":0.98},{"t":0.608,"c":0.96},{"t":0.643,"c":0.98},{"t":0.645,"c":0.94},{"t":0.647,"c":0.96},{"t":0.656,"c":0.94},{"t":0.658,"c":0.96},{"t":0.661,"c":0.98},{"t":0.862,"c":0.96},{"t":0.864,"c":0.98},{"t":0.95,"c":0.96},{"t":0.952,"c":0.98},{"t":0.954,"c":0.96},{"t":0.956,"c":0.98},{"t":0.958,"c":0.96},{"t":0.961,"c":0.94},{"t":0.963,"c":0.96},{"t":0.965,"c":0.94},{"t":0.967,"c":0.96},{"t":0.97,"c":0.98},{"t":0.972,"c":0.96},{"t":0.976,"c":0.94},{"t":0.978,"c":0.96},{"t":0.98,"c":0.94},{"t":0.982,"c":0.96},{"t":0.985,"c":0.98},{"t":1,"c":0.98}
],
"ref": [{"level": 0.95, "lab": "95%"}]
},
"hconcat": [
{
  "width": 410, "height": 345,
  "layer": [
    {
      "data": {"name": "paths"},
      "mark": {"type": "line", "strokeWidth": 1.3},
      "encoding": {
        "x": {"field": "t", "type": "quantitative", "title": "times",
              "scale": {"domain": [-0.04, 1.04], "nice": false, "zero": false},
              "axis": {"values": [0, 0.2, 0.4, 0.6, 0.8, 1], "format": ".1f", "tickSize": 4, "labelPadding": 0, "labelFontSize": 10, "titleFontSize": 12, "titlePadding": -3, "labelFlush": false, "labelOverlap": false}},
        "y": {"field": "x", "type": "quantitative", "title": "X",
              "scale": {"domain": [-0.037, 0.942], "nice": false, "zero": false},
              "axis": {"values": [0, 0.2, 0.4, 0.6, 0.8], "format": ".1f", "tickSize": 7, "labelAngle": -90, "labelAlign": "center", "labelBaseline": "bottom", "labelPadding": 16, "labelFont": "'Liberation Sans Narrow', 'DejaVu Sans Condensed', 'Liberation Sans', sans-serif", "labelFontSize": 10, "titleFont": "'Liberation Sans Narrow', 'DejaVu Sans Condensed', 'Liberation Sans', sans-serif", "titleFontSize": 11, "titlePadding": 9, "labelFlush": false, "labelOverlap": false}},
        "detail": {"field": "p", "type": "nominal"},
        "color": {"datum": "data", "type": "nominal",
                  "scale": {"domain": ["data", "prediction intervals"], "range": ["#000000", "#00cd00"]},
                  "legend": {"orient": "none", "legendX": 203, "legendY": 311, "title": null, "symbolType": "M-3,0H3", "symbolSize": 144, "symbolStrokeWidth": 1, "labelOffset": 28, "labelFontSize": 12, "rowPadding": 0}}
      }
    },
    {
      "data": {"name": "bands"},
      "mark": {"type": "line", "strokeWidth": 2.6},
      "encoding": {
        "x": {"field": "t", "type": "quantitative"},
        "y": {"field": "x", "type": "quantitative"},
        "detail": {"field": "s", "type": "nominal"},
        "color": {"datum": "prediction intervals", "type": "nominal"}
      }
    }
  ]
},
{
  "width": 410, "height": 345,
  "layer": [
    {
      "data": {"name": "cov"},
      "mark": {"type": "line", "interpolate": "step-after", "color": "#000000", "strokeWidth": 1.2},
      "encoding": {
        "x": {"field": "t", "type": "quantitative", "title": "times",
              "scale": {"domain": [-0.04, 1.04], "nice": false, "zero": false},
              "axis": {"values": [0, 0.2, 0.4, 0.6, 0.8, 1], "format": ".1f", "tickSize": 4, "labelPadding": 0, "labelFontSize": 10, "titleFontSize": 12, "titlePadding": -3, "labelFlush": false, "labelOverlap": false}},
        "y": {"field": "c", "type": "quantitative", "title": "coverage rates",
              "scale": {"domain": [0.8024, 1.0077], "nice": false, "zero": false},
              "axis": {"values": [0.85, 0.9, 0.95, 1], "format": ".2f", "tickSize": 13, "labelAngle": -90, "labelAlign": "center", "labelBaseline": "bottom", "labelPadding": 5, "labelFont": "'Liberation Sans Narrow', 'DejaVu Sans Condensed', 'Liberation Sans', sans-serif", "labelFontSize": 10, "titleFont": "'Liberation Sans Narrow', 'DejaVu Sans Condensed', 'Liberation Sans', sans-serif", "titleFontSize": 10, "titlePadding": 12, "labelFlush": false, "labelOverlap": false}}
      }
    },
    {
      "data": {"name": "ref"},
      "mark": {"type": "rule", "strokeDash": [7, 7], "strokeWidth": 1},
      "encoding": {
        "y": {"field": "level", "type": "quantitative"},
        "color": {"field": "lab", "type": "nominal",
                  "scale": {"domain": ["95%"], "range": ["#f07070"]},
                  "legend": {"orient": "none", "legendX": 320, "legendY": 324, "title": null, "symbolType": "M-3,0H3", "symbolSize": 144, "symbolStrokeWidth": 1, "symbolDash": [7, 7], "labelOffset": 28, "labelFontSize": 12}}
      }
    }
  ]
}
]
}
